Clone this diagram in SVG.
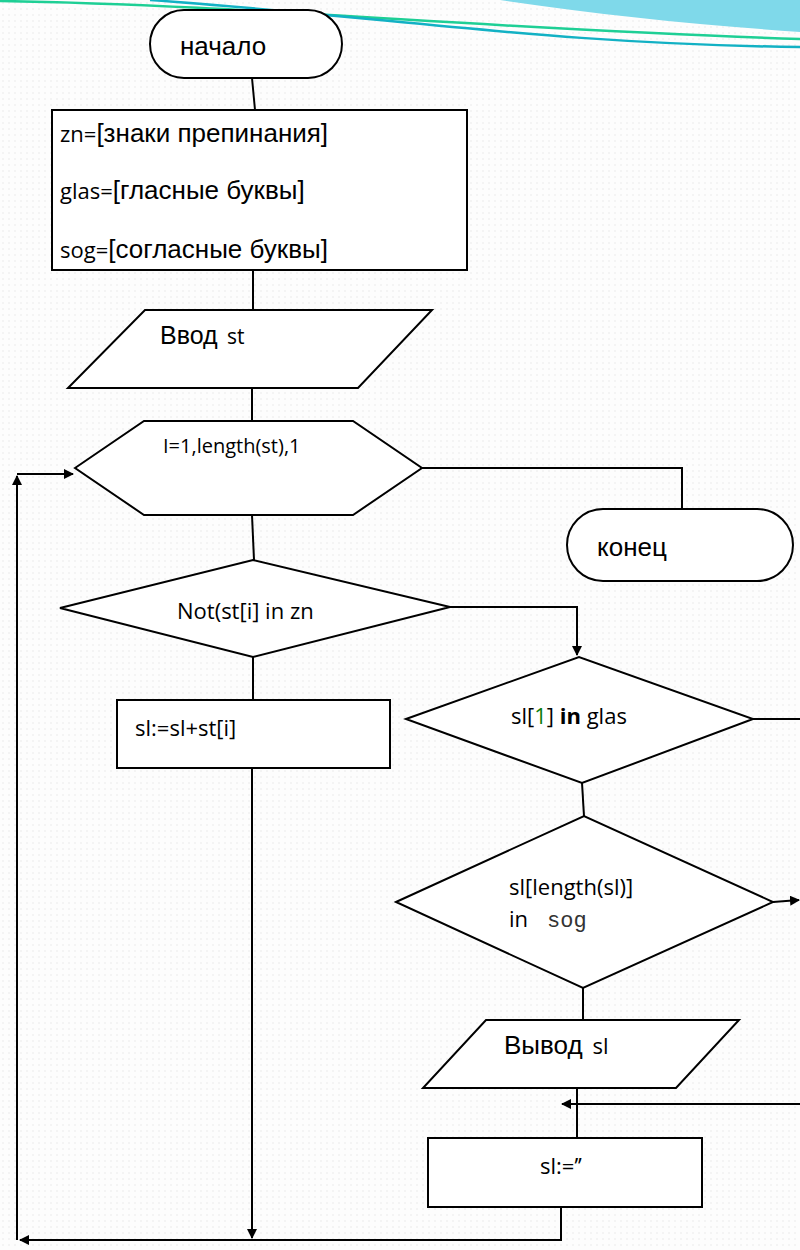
<svg xmlns="http://www.w3.org/2000/svg" width="800" height="1250" viewBox="0 0 800 1250">
<style>
.sh{fill:#fff;stroke:#000;stroke-width:2}
.ln{fill:none;stroke:#000;stroke-width:2}
.ar{fill:none;stroke:#000;stroke-width:2;marker-end:url(#ah)}
.a{font-family:"Liberation Sans",Arial,sans-serif;fill:#000}
.c{font-family:"Open Sans","Liberation Sans",sans-serif;fill:#000}
</style>
<defs>
<marker id="ah" viewBox="0 0 10 10" refX="9" refY="5" markerWidth="5" markerHeight="5" orient="auto" markerUnits="strokeWidth">
<path d="M0,0 L10,5 L0,10 Z" fill="#000"/>
</marker>
<pattern id="dots" width="6" height="6" patternUnits="userSpaceOnUse">
<rect width="6" height="6" fill="#fdfdfd"/>
<circle cx="3" cy="3" r="1" fill="#f1f1f1"/>
</pattern>
</defs>
<rect width="800" height="1250" fill="url(#dots)"/>
<g id="decor">
<path d="M500,0 C600,15 700,25 800,32 L800,0 Z" fill="#7fd9ea"/>
<path d="M0,1 C250,5 500,30 800,39" fill="none" stroke="#1ecf95" stroke-width="2.5"/>
<path d="M150,0 C400,18 550,44 800,47" fill="none" stroke="#12b1c4" stroke-width="2.5"/>
</g>
<g id="connectors">
<path class="ln" d="M252,78 L255,110"/>
<path class="ln" d="M253,270 L253,310"/>
<path class="ln" d="M252,388 L252,421"/>
<path class="ln" d="M252,515 L254,560"/>
<path class="ln" d="M422,468 L682,468 L682,510"/>
<path class="ln" d="M253,657 L253,700"/>
<path class="ar" d="M450,607 L577,607 L577,655"/>
<path class="ln" d="M582,783 L584,816"/>
<path class="ln" d="M753,719 L800,719"/>
<path class="ar" d="M773,902 L799,900"/>
<path class="ln" d="M583,988 L583,1020"/>
<path class="ln" d="M577,1088 L577,1138"/>
<path class="ar" d="M800,1104 L562,1104"/>
<path class="ar" d="M252,768 L252,1238"/>
<path class="ar" d="M561,1207 L561,1240 L20,1240"/>
<path class="ar" d="M17,1240 L17,476"/>
<path class="ar" d="M17,474 L73,474"/>
</g>
<g id="start">
<rect class="sh" x="150" y="10" width="192" height="68" rx="34" ry="34"/>
<text class="a" x="180" y="55" font-size="26">начало</text>
</g>
<g id="init">
<rect class="sh" x="52" y="110" width="415" height="160"/>
<text x="60" y="142"><tspan class="c" font-size="22">zn=</tspan><tspan class="a" font-size="26">[знаки препинания]</tspan></text>
<text x="60" y="199"><tspan class="c" font-size="22">glas=</tspan><tspan class="a" font-size="26">[гласные буквы]</tspan></text>
<text x="60" y="258"><tspan class="c" font-size="22">sog=</tspan><tspan class="a" font-size="26">[согласные буквы]</tspan></text>
</g>
<g id="input">
<polygon class="sh" points="145,310 432,310 358,388 68,388"/>
<text x="160" y="344"><tspan class="a" font-size="25">Ввод</tspan><tspan class="c" font-size="21" x="227">st</tspan></text>
</g>
<g id="loop">
<polygon class="sh" points="75,468 144,421 353,421 422,468 353,515 144,515"/>
<text class="c" x="163" y="453" font-size="20">I=1,length(st),1</text>
</g>
<g id="end">
<rect class="sh" x="567" y="509" width="226" height="72" rx="36" ry="36"/>
<text class="a" x="597" y="556" font-size="26">конец</text>
</g>
<g id="cond1">
<polygon class="sh" points="60,608 253,560 450,607 253,657"/>
<text class="c" x="177" y="619" font-size="22">Not(st[i] in zn</text>
</g>
<g id="append">
<rect class="sh" x="117" y="700" width="273" height="68"/>
<text class="c" x="135" y="736" font-size="22">sl:=sl+st[i]</text>
</g>
<g id="cond2">
<polygon class="sh" points="406,719 579,657 753,719 582,783"/>
<text class="c" x="511" y="724" font-size="22">sl[<tspan fill="#0a7d0a">1</tspan>] <tspan font-weight="bold">in</tspan> glas</text>
</g>
<g id="cond3">
<polygon class="sh" points="396,902 584,816 773,902 583,988"/>
<text class="c" x="509" y="895" font-size="22">sl[length(sl)]</text>
<text x="509" y="927"><tspan class="c" font-size="22">in</tspan><tspan font-family="Liberation Mono,monospace" font-size="22" fill="#333" x="547">sog</tspan></text>
</g>
<g id="output">
<polygon class="sh" points="486,1020 739,1020 676,1088 423,1088"/>
<text x="504" y="1054"><tspan class="a" font-size="26">Вывод</tspan><tspan class="c" font-size="22" dx="10">sl</tspan></text>
</g>
<g id="reset">
<rect class="sh" x="428" y="1138" width="274" height="69"/>
<text class="c" x="540" y="1174" font-size="22">sl:=’’</text>
</g>
</svg>
